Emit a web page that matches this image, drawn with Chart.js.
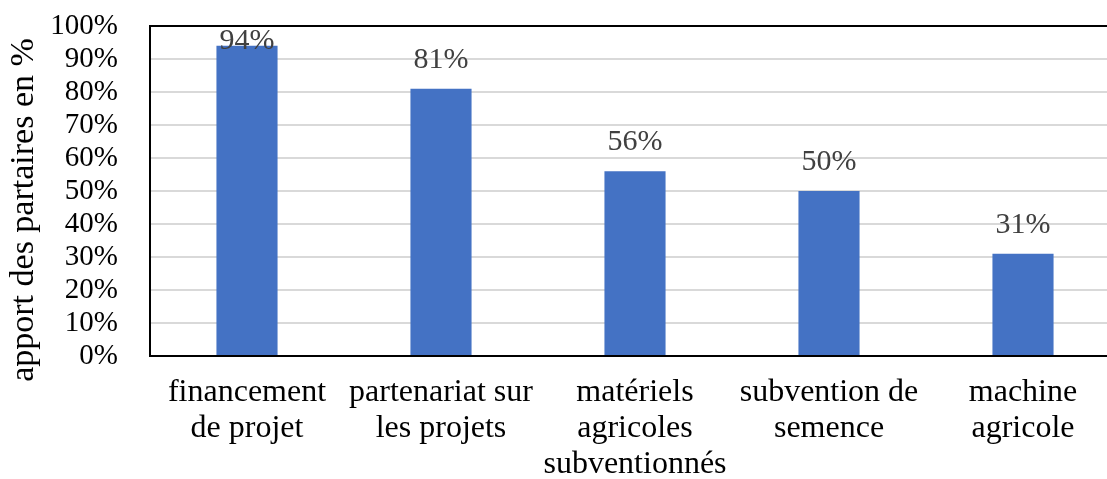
<!DOCTYPE html>
<html lang="fr">
<head>
<meta charset="utf-8">
<script src="https://cdn.jsdelivr.net/npm/chart.js@4/dist/chart.umd.min.js"></script>
<style>
  html,body{margin:0;padding:0;background:#fff;overflow:hidden;}
  #wrap{position:relative;width:1120px;height:479px;}
</style>
</head>
<body>
<div id="wrap"><canvas id="apport"></canvas></div>
<script>
// ===================== DONNÉES =====================
const categories = [
  ['financement','de projet'],
  ['partenariat sur','les projets'],
  ['matériels','agricoles','subventionnés'],
  ['subvention de','semence'],
  ['machine','agricole']
];
const apport = [94, 81, 56, 50, 31];
const yTicks = [0,10,20,30,40,50,60,70,80,90,100];
const yTitle = 'apport des partaires en %';

const SERIF = "'Liberation Serif','Times New Roman',serif";
const BLUE = '#4472C4';

// étiquettes de valeur au-dessus des barres (bornées au haut du graphique)
const valueLabels = {
  id:'valueLabels',
  afterDatasetsDraw(chart){
    const {ctx, chartArea} = chart;
    const meta = chart.getDatasetMeta(0);
    ctx.save();
    ctx.font = '30px '+SERIF;
    ctx.fillStyle = '#404040';
    ctx.textAlign = 'center';
    ctx.textBaseline = 'middle';
    meta.data.forEach((bar,i)=>{
      const y = Math.max(bar.y - 29, chartArea.top + 15);
      ctx.fillText(apport[i]+'%', bar.x, y);
    });
    ctx.restore();
  }
};

// titre vertical de l'axe Y
const axisTitle = {
  id:'axisTitle',
  afterDraw(chart){
    const ctx = chart.ctx;
    ctx.save();
    ctx.translate(24, 210);
    ctx.rotate(-Math.PI/2);
    ctx.font = '34px '+SERIF;
    ctx.fillStyle = '#000';
    ctx.textAlign = 'center';
    ctx.textBaseline = 'middle';
    ctx.fillText(yTitle, 0, 0);
    ctx.restore();
  }
};

new Chart(document.getElementById('apport').getContext('2d'),{
  type:'bar',
  data:{labels:categories, datasets:[{label:'apport',data:apport,backgroundColor:BLUE,
    barPercentage:1,categoryPercentage:0.315}]},
  options:{responsive:true,maintainAspectRatio:false,animation:false,
    layout:{padding:{top:26,left:0,right:0,bottom:0}},
    plugins:{legend:{display:false},tooltip:{enabled:false}},
    scales:{
      x:{grid:{display:false,drawTicks:false},
         border:{display:true,color:'#000',width:2},
         ticks:{color:'#000',padding:19,maxRotation:0,autoSkip:false,
                font:{family:SERIF,size:32,lineHeight:1.12}},
         afterFit:s=>{s.height=123;}},
      y:{min:0,max:100,
         afterBuildTicks:s=>{s.ticks=yTicks.map(v=>({value:v}));},
         grid:{drawTicks:false,lineWidth:2,
               color:c=>c.tick && c.tick.value===100 ? '#000' : '#d9d9d9'},
         border:{display:true,color:'#000',width:2},
         ticks:{color:'#000',padding:32,autoSkip:false,callback:v=>v+'%',
                font:{family:SERIF,size:29}},
         afterFit:s=>{s.width=150; s.paddingTop=0; s.paddingBottom=0;}}
    }},
  plugins:[valueLabels, axisTitle]
});
</script>
</body>
</html>
